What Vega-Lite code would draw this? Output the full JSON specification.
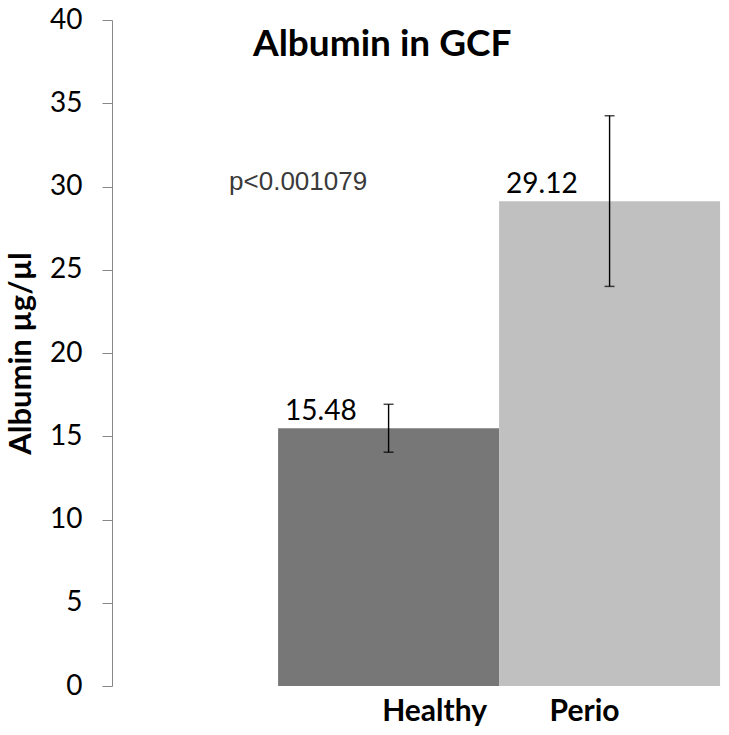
{
  "$schema": "https://vega.github.io/schema/vega-lite/v6.json",
  "width": 617,
  "height": 666,
  "autosize": "none",
  "padding": {"left": 112, "top": 20, "right": 0, "bottom": 49},
  "background": "white",
  "config": {"view": {"stroke": null}, "font": "Lato"},
  "title": {
    "text": "Albumin in GCF",
    "font": "Lato",
    "fontSize": 37,
    "fontWeight": "bold",
    "color": "black",
    "anchor": "start",
    "frame": "group",
    "dx": 141,
    "offset": -87,
    "baseline": "alphabetic"
  },
  "data": {
    "values": [
      {"group": "Healthy", "mean": 15.48, "low": 14.04, "high": 16.92},
      {"group": "Perio", "mean": 29.12, "low": 24.0, "high": 34.25}
    ]
  },
  "encoding": {
    "x": {
      "field": "group",
      "type": "nominal",
      "sort": ["Healthy", "Perio"],
      "scale": {"paddingInner": 0, "paddingOuter": 0.396, "align": 0.949},
      "axis": {
        "title": null,
        "domain": false,
        "ticks": false,
        "labelAngle": 0,
        "labelFont": "Lato",
        "labelFontSize": 30,
        "labelFontWeight": "bold",
        "labelColor": "black",
        "labelPadding": 10,
        "labelOffset": {"condition": {"test": "datum.value === 'Healthy'", "value": 46}, "value": -25}
      }
    }
  },
  "layer": [
    {
      "mark": {"type": "bar"},
      "encoding": {
        "y": {
          "field": "mean",
          "type": "quantitative",
          "scale": {"domain": [0, 40]},
          "axis": {
            "title": "Albumin µg/µl",
            "titleFont": "Lato",
            "titleFontSize": 31,
            "titleFontWeight": "bold",
            "titleColor": "black",
            "titlePadding": 12,
            "values": [0, 5, 10, 15, 20, 25, 30, 35, 40],
            "labelFont": "Lato",
            "labelFontSize": 28,
            "labelColor": "black",
            "labelPadding": 20,
            "tickSize": 10,
            "tickColor": "#888888",
            "domainColor": "#888888",
            "grid": false
          }
        },
        "color": {
          "field": "group",
          "type": "nominal",
          "scale": {"domain": ["Healthy", "Perio"], "range": ["#777777", "#c0c0c0"]},
          "legend": null
        }
      }
    },
    {
      "mark": {"type": "rule", "color": "black", "strokeWidth": 1.4},
      "encoding": {
        "y": {"field": "low", "type": "quantitative"},
        "y2": {"field": "high"}
      }
    },
    {
      "mark": {"type": "tick", "color": "black", "thickness": 1.5, "size": 10, "orient": "horizontal"},
      "encoding": {"y": {"field": "low", "type": "quantitative"}}
    },
    {
      "mark": {"type": "tick", "color": "black", "thickness": 1.5, "size": 10, "orient": "horizontal"},
      "encoding": {"y": {"field": "high", "type": "quantitative"}}
    },
    {
      "mark": {"type": "text", "align": "left", "baseline": "alphabetic", "dx": 7, "dy": -8, "fontSize": 28, "font": "Lato", "color": "black"},
      "encoding": {
        "x": {"field": "group", "type": "nominal", "bandPosition": 0},
        "y": {"field": "mean", "type": "quantitative"},
        "text": {"field": "mean", "type": "quantitative", "format": ".2f"}
      }
    },
    {
      "data": {"values": [{"label": "p<0.001079"}]},
      "mark": {"type": "text", "font": "Liberation Sans", "fontSize": 26, "color": "#3a3a3a", "align": "center", "baseline": "middle", "dx": 20},
      "encoding": {
        "x": {"datum": "Healthy", "type": "nominal", "bandPosition": 0},
        "y": {"datum": 30.3, "type": "quantitative"},
        "text": {"field": "label", "type": "nominal"}
      }
    }
  ]
}
